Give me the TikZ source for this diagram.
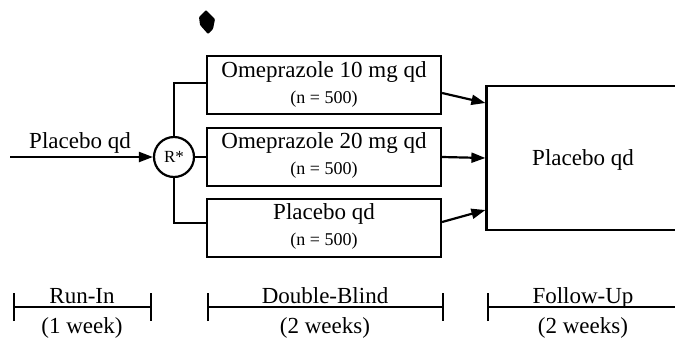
\documentclass[tikz,border=0pt]{standalone}
\usepackage{fontspec}
\setmainfont{Liberation Serif}
\usetikzlibrary{arrows.meta}
\tikzset{
  line/.style={line width=2.2pt},
  boxnode/.style={draw, line width=2.2pt, minimum width=234pt, minimum height=58pt, inner sep=0pt},
  bigtext/.style={font=\fontsize{23}{23}\selectfont, inner sep=0pt},
  smalltext/.style={font=\fontsize{18}{18}\selectfont, inner sep=0pt},
  arr/.style={line width=2.2pt, -{Triangle[length=14pt,width=10pt]}},
  span/.style={line width=1.8pt, {Bar[width=28pt]}-{Bar[width=28pt]}},
  spanopen/.style={line width=1.8pt, {Bar[width=28pt]}-},
}
\begin{document}
\begin{tikzpicture}[x=1pt,y=-1pt]
\useasboundingbox (0,0) rectangle (675,341);
% blob
\fill[rounded corners=1pt] (206,10) -- (215,19) -- (213,29) -- (208,34) -- (200,25) -- (199,17) -- cycle;
% boxes
\node[boxnode] (b1) at (324,85) {};
\node[boxnode] (b2) at (324,157) {};
\node[boxnode] (b3) at (324,228) {};
\node[draw, line width=2.2pt, minimum width=195pt, minimum height=144pt, inner sep=0pt] (B) at (584,158) {};
% box texts
\node[bigtext] (b1t) at (324,72) {Omeprazole 10 mg qd};
\node[smalltext] (b1n) at (324,99) {(n = 500)};
\node[bigtext] (b2t) at (324,143) {Omeprazole 20 mg qd};
\node[smalltext] (b2n) at (324,170) {(n = 500)};
\node[bigtext] (b3t) at (324,214) {Placebo qd};
\node[smalltext] (b3n) at (324,241) {(n = 500)};
\node[bigtext] (Bt) at (583,160) {Placebo qd};
% randomisation
\node[draw, circle, line width=2.2pt, minimum size=40pt, inner sep=0pt, font=\fontsize{17}{17}\selectfont] (R) at (174,157) {R*};
\coordinate (in) at (10,157);
\node[bigtext] (pin) at (80,143) {Placebo qd};
\draw[arr] (in) -- (R.west);
\draw[line] (R.north) |- ([yshift=2pt]b1.west);
\draw[line] (R.east) -- (b2.west);
\draw[line] (R.south) |- ([yshift=5pt]b3.west);
% arrows to follow-up
\draw[arr] ([yshift=-8pt]b1.east) -- ([yshift=55pt]B.west);
\draw[arr] (b2.east) -- (B.west);
\draw[arr] ([yshift=6pt]b3.east) -- ([yshift=-52pt]B.west);
% timeline
\coordinate (r1) at (13,307);
\coordinate (r2) at (152,307);
\coordinate (d1) at (207,307);
\coordinate (d2) at (444,307);
\coordinate (f1) at (487,307);
\coordinate (f2) at (680,307);
\draw[span] (r1) -- (r2);
\draw[span] (d1) -- (d2);
\draw[spanopen] (f1) -- (f2);
\node[bigtext, anchor=base] (rl) at (82,303) {Run-In};
\node[bigtext] (rw) at (82,328) {(1 week)};
\node[bigtext, anchor=base] (dl) at (325,303) {Double-Blind};
\node[bigtext] (dw) at (325,328) {(2 weeks)};
\node[bigtext, anchor=base] (fl) at (583,303) {Follow-Up};
\node[bigtext] (fw) at (583,328) {(2 weeks)};
\end{tikzpicture}
\end{document}
